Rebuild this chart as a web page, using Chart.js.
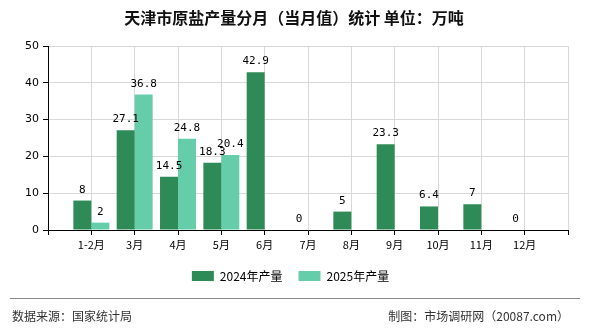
<!DOCTYPE html>
<html>
<head>
<meta charset="utf-8">
<script src="https://cdn.jsdelivr.net/npm/chart.js@4"></script>
<style>
  html, body { margin: 0; padding: 0; background: #fff; }
  #wrap { width: 590px; height: 330px; position: relative; }
</style>
</head>
<body>
<div id="wrap"><canvas id="c" width="590" height="330"></canvas></div>
<script>
// empty slots at both ends keep the categories away from the axes
const months = ['', '1-2月', '3月', '4月', '5月', '6月', '7月', '8月', '9月', '10月', '11月', '12月', ''];
const output2024 = [null, 8, 27.1, 14.5, 18.3, 42.9, 0, 5, 23.3, 6.4, 7, 0, null];
const output2025 = [null, 2, 36.8, 24.8, 20.4, null, null, null, null, null, null, null, null];
const yTicks = [0, 10, 20, 30, 40, 50];

const TITLE = '天津市原盐产量分月（当月值）统计 单位：万吨';
const SOURCE = '数据来源：国家统计局';
const MAKER = '制图：市场调研网（20087.com）';
const CJK = '"Noto Sans CJK SC", sans-serif';

// value labels, title and footer
const decor = {
  id: 'decor',
  afterDatasetsDraw(chart) {
    const ctx = chart.ctx;
    ctx.save();
    ctx.font = '11px "DejaVu Sans Mono", monospace';
    ctx.fillStyle = '#000';
    ctx.textAlign = 'center';
    ctx.textBaseline = 'alphabetic';
    chart.data.datasets.forEach((ds, i) => {
      chart.getDatasetMeta(i).data.forEach((bar, j) => {
        const v = ds.data[j];
        if (v === null || v === undefined) return;
        ctx.fillText(String(v), bar.x, bar.y - 8);
      });
    });
    ctx.restore();
  },
  afterDraw(chart) {
    const ctx = chart.ctx;
    ctx.save();
    ctx.fillStyle = '#111';
    ctx.font = 'bold 16px ' + CJK;
    ctx.textAlign = 'center';
    ctx.textBaseline = 'middle';
    ctx.fillText(TITLE, 294, 18);

    ctx.strokeStyle = '#888';
    ctx.lineWidth = 1;
    ctx.beginPath();
    ctx.moveTo(10, 298.5);
    ctx.lineTo(580, 298.5);
    ctx.stroke();

    ctx.fillStyle = '#333';
    ctx.font = '12px ' + CJK;
    ctx.textAlign = 'left';
    ctx.fillText(SOURCE, 12, 316);
    ctx.textAlign = 'right';
    ctx.fillText(MAKER, 569, 316);
    ctx.restore();
  }
};

new Chart(document.getElementById('c').getContext('2d'), {
  type: 'bar',
  data: {
    labels: months,
    datasets: [
      { label: '2024年产量', data: output2024, backgroundColor: '#2e8b57', categoryPercentage: 0.83, barPercentage: 1 },
      { label: '2025年产量', data: output2025, backgroundColor: '#66cdaa', categoryPercentage: 0.83, barPercentage: 1 }
    ]
  },
  options: {
    responsive: false,
    animation: false,
    layout: { padding: { left: 13, right: 22, top: 46, bottom: 38 } },
    plugins: {
      title: { display: false },
      tooltip: { enabled: false },
      legend: {
        position: 'bottom',
        labels: { boxWidth: 22, boxHeight: 10, padding: 16, color: '#000', font: { size: 12, family: CJK } }
      }
    },
    scales: {
      x: {
        offset: false,
        afterFit: s => { s.height = 24; },
        grid: { offset: false, color: '#d8d8d8', tickColor: '#000', tickLength: 5 },
        border: { color: '#000' },
        ticks: { color: '#000', font: { size: 11, family: CJK }, maxRotation: 0, autoSkip: false, padding: 3 }
      },
      y: {
        min: 0,
        max: 50,
        afterFit: s => { s.width = 35; },
        afterBuildTicks: s => { s.ticks = yTicks.map(v => ({ value: v })); },
        grid: { color: '#d8d8d8', tickColor: '#000', tickLength: 5 },
        border: { color: '#000' },
        ticks: { color: '#000', font: { size: 11, family: 'DejaVu Sans' }, padding: 4 }
      }
    }
  },
  plugins: [decor]
});
</script>
</body>
</html>
